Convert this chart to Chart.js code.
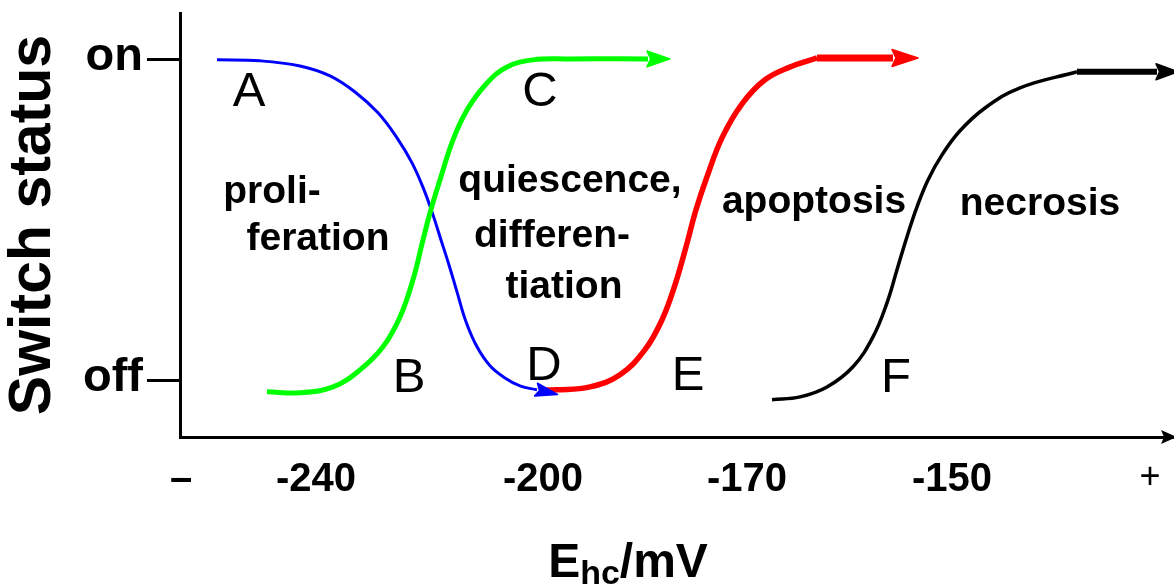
<!DOCTYPE html>
<html><head><meta charset="utf-8">
<script src="https://cdn.jsdelivr.net/npm/chart.js@4.4.1/dist/chart.umd.min.js"></script>
<style>html,body{margin:0;padding:0;background:#fff;overflow:hidden}</style>
</head><body>
<canvas id="c" width="1174" height="585"></canvas>
<script>
// x: position along the E_hc axis (0 = "–" end, 994 = "+" end), y: switch status (0 = off, 1 = on)
const tickValues = [1, 136, 363, 567, 772, 970];
const tickLabels = ['–', '-240', '-200', '-170', '-150', '+'];
const statusValues = [0, 1];
const statusLabels = ['off', 'on'];

const blueX = [37, 80, 120, 150, 175, 198, 217, 232, 244, 253, 261, 269, 277, 286, 297, 310, 325, 340, 357];
const blueY = [1.0, 0.997, 0.981, 0.950, 0.900, 0.835, 0.757, 0.679, 0.595, 0.517, 0.439, 0.361, 0.277, 0.184, 0.106, 0.047, 0.009, -0.016, -0.028];

const greenX = [87, 120, 153, 180, 203, 220, 233, 243, 250, 260, 273, 287, 307, 327, 353, 387, 468];
const greenY = [-0.034, -0.037, -0.019, 0.034, 0.106, 0.199, 0.315, 0.439, 0.523, 0.626, 0.751, 0.844, 0.928, 0.978, 1.0, 1.003, 1.003];

const redX = [360, 377, 410, 440, 465, 482, 495, 506, 516, 527, 542, 562, 585, 610, 637];
const redY = [-0.028, -0.028, -0.019, 0.019, 0.097, 0.190, 0.299, 0.417, 0.533, 0.636, 0.757, 0.863, 0.938, 0.978, 1.006];
const redShaftX = [637, 713];
const redShaftY = [1.006, 1.006];

const blackX = [592, 620, 647, 673, 693, 707, 717, 727, 737, 748, 762, 780, 805, 840, 897];
const blackY = [-0.059, -0.050, -0.019, 0.044, 0.137, 0.243, 0.346, 0.449, 0.542, 0.626, 0.704, 0.779, 0.850, 0.913, 0.963];
const blackShaftX = [897, 977];
const blackShaftY = [0.963, 0.963];

const letterText = ['A', 'B', 'C', 'D', 'E', 'F'];
const letterX = [69, 229, 360, 364, 508, 716];
const letterY = [0.857, -0.034, 0.855, 0.003, -0.028, -0.034];

const regionText = ['proli-', 'feration', 'quiescence,', 'differen-', 'tiation', 'apoptosis', 'necrosis'];
const regionX = [92, 138, 390, 372, 384, 634, 860];
const regionY = [0.555, 0.408, 0.589, 0.417, 0.259, 0.523, 0.517];

const FAMILY = '"Liberation Sans", Arial, Helvetica, sans-serif';
Chart.defaults.font.family = FAMILY;

const toPts = (xs, ys) => xs.map((x, i) => ({x: x, y: ys[i]}));

const arrowPlugin = {
  id: 'arrows',
  afterDatasetsDraw(chart) {
    const ctx = chart.ctx;
    chart.data.datasets.forEach((ds, i) => {
      if (!ds.arrow) return;
      const pts = chart.getDatasetMeta(i).data;
      const n = pts.length;
      const p1 = pts[n - 2], p2 = pts[n - 1];
      const ang = Math.atan2(p2.y - p1.y, p2.x - p1.x);
      ctx.save();
      ctx.translate(p2.x, p2.y);
      ctx.rotate(ang);
      ctx.fillStyle = ds.borderColor;
      ctx.strokeStyle = ds.borderColor;
      ctx.lineJoin = 'round';
      ctx.lineWidth = 1.5;
      ctx.beginPath();
      ctx.moveTo(ds.arrow.len, 0);
      ctx.lineTo(-1, -ds.arrow.hw);
      ctx.lineTo(ds.arrow.len * 0.12, 0);
      ctx.lineTo(-1, ds.arrow.hw);
      ctx.closePath();
      ctx.fill();
      ctx.stroke();
      ctx.restore();
    });
    // text annotations
    const xs = chart.scales.x, ys = chart.scales.y;
    ctx.save();
    ctx.fillStyle = '#000';
    ctx.textAlign = 'center';
    ctx.textBaseline = 'alphabetic';
    ctx.font = '49px ' + FAMILY;
    letterText.forEach((t, i) => {
      ctx.fillText(t, xs.getPixelForValue(letterX[i]), ys.getPixelForValue(letterY[i]));
    });
    ctx.font = 'bold 39px ' + FAMILY;
    regionText.forEach((t, i) => {
      ctx.fillText(t, xs.getPixelForValue(regionX[i]), ys.getPixelForValue(regionY[i]));
    });
    ctx.restore();
  },
  afterDraw(chart) {
    const ctx = chart.ctx;
    const xs = chart.scales.x;
    const ca = chart.chartArea;
    // x-axis arrowhead
    ctx.save();
    ctx.fillStyle = '#000';
    ctx.beginPath();
    const yb = xs.top;
    ctx.moveTo(ca.right + 3, yb);
    ctx.lineTo(ca.right - 13, yb - 7);
    ctx.lineTo(ca.right - 10, yb);
    ctx.lineTo(ca.right - 13, yb + 7);
    ctx.closePath();
    ctx.fill();
    // x-axis title with subscript
    const big = 'bold 48px ' + FAMILY, small = 'bold 34px ' + FAMILY;
    ctx.font = big; const wE = ctx.measureText('E').width; const wM = ctx.measureText('/mV').width;
    ctx.font = small; const wS = ctx.measureText('hc').width;
    const total = wE + wS + wM;
    const cx = 628, base = 577;
    let x0 = cx - total / 2;
    ctx.textAlign = 'left';
    ctx.textBaseline = 'alphabetic';
    ctx.font = big; ctx.fillText('E', x0, base);
    ctx.font = small; ctx.fillText('hc', x0 + wE, base + 7);
    ctx.font = big; ctx.fillText('/mV', x0 + wE + wS, base);
    ctx.restore();
  }
};

const common = {pointRadius: 0, pointHoverRadius: 0, fill: false, tension: 0.4, clip: false};

new Chart(document.getElementById('c'), {
  type: 'line',
  data: {
    datasets: [
      Object.assign({label: 'B→C', data: toPts(greenX, greenY), borderColor: '#00ff00', borderWidth: 5, arrow: {len: 22, hw: 8}}, common),
      Object.assign({label: 'A→D', data: toPts(blueX, blueY), borderColor: '#0000ff', borderWidth: 3, arrow: {len: 21, hw: 6.5}}, common),
      Object.assign({label: 'D→E', data: toPts(redX, redY), borderColor: '#ff0000', borderWidth: 5.5}, common),
      Object.assign({label: 'E arrow', data: toPts(redShaftX, redShaftY), borderColor: '#ff0000', borderWidth: 7, arrow: {len: 25, hw: 8.5}}, common),
      Object.assign({label: 'F', data: toPts(blackX, blackY), borderColor: '#000000', borderWidth: 3.5}, common),
      Object.assign({label: 'F arrow', data: toPts(blackShaftX, blackShaftY), borderColor: '#000000', borderWidth: 6, arrow: {len: 21, hw: 8}}, common)
    ]
  },
  options: {
    responsive: false,
    animation: false,
    devicePixelRatio: 1,
    events: [],
    layout: {padding: {top: 13, left: 0, right: 0, bottom: 0}},
    plugins: {legend: {display: false}, tooltip: {enabled: false}, title: {display: false}},
    scales: {
      x: {
        type: 'linear', min: 0, max: 994,
        afterFit(s) { s.height = 148; s.paddingLeft = 0; s.paddingRight = 0; },
        afterBuildTicks(s) { s.ticks = tickValues.map(v => ({value: v})); },
        ticks: {
          autoSkip: false, maxRotation: 0, minRotation: 0, color: '#000', padding: 19,
          callback: (v) => tickLabels[tickValues.indexOf(v)],
          font: (c) => c.index === 5 ? {size: 36, weight: 'normal'} : {size: 40, weight: 'bold'}
        },
        grid: {display: false, drawTicks: false},
        border: {display: true, color: '#000', width: 3}
      },
      y: {
        type: 'linear', min: -0.175, max: 1.146,
        afterFit(s) { s.width = 180; s.paddingTop = 0; s.paddingBottom = 0; },
        afterBuildTicks(s) { s.ticks = statusValues.map(v => ({value: v})); },
        ticks: {
          color: '#000', padding: 4, labelOffset: -3,
          callback: (v) => statusLabels[statusValues.indexOf(v)],
          font: {size: 47, weight: 'bold'}
        },
        grid: {display: true, drawOnChartArea: false, drawTicks: true, tickLength: 33, color: '#000', lineWidth: 3},
        border: {display: true, color: '#000', width: 3},
        title: {display: true, text: 'Switch status', color: '#000', padding: 0, font: {size: 59, weight: 'bold', lineHeight: 1.153}}
      }
    }
  },
  plugins: [arrowPlugin]
});
</script>
</body></html>
